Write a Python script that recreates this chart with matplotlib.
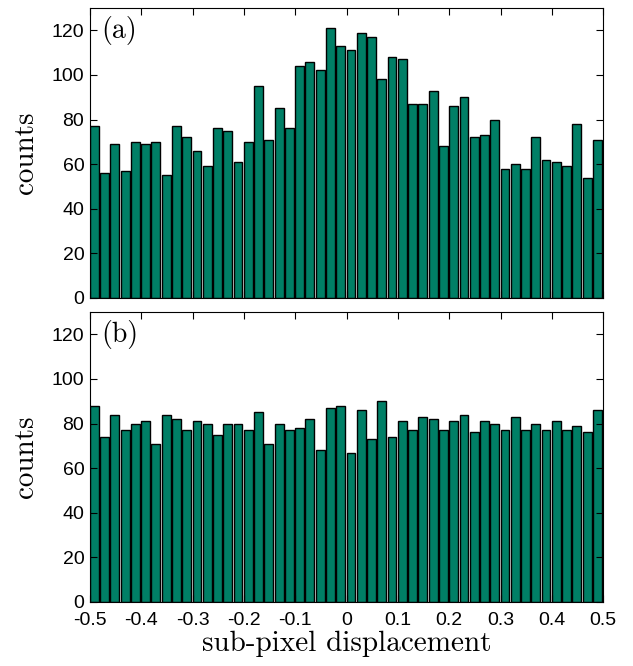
import numpy as np
import matplotlib
matplotlib.use("Agg")
import matplotlib.pyplot as plt

# bin left edges -0.5 ... 0.48, width 0.02
bin_width = 0.02
bin_edges = np.round(np.arange(-0.5, 0.5, bin_width), 2)

counts_a = [77, 56, 69, 57, 70, 69, 70, 55, 77, 72,
            66, 59, 76, 75, 61, 70, 95, 71, 85, 76,
            104, 106, 102, 121, 113, 111, 119, 117, 98, 108,
            107, 87, 87, 93, 68, 86, 90, 72, 73, 80,
            58, 60, 58, 72, 62, 61, 59, 78, 54, 71]

counts_b = [88, 74, 84, 77, 80, 81, 71, 84, 82, 77,
            81, 80, 75, 80, 80, 77, 85, 71, 80, 77,
            78, 82, 68, 87, 88, 67, 86, 73, 90, 74,
            81, 77, 83, 82, 77, 81, 84, 76, 81, 80,
            77, 83, 77, 80, 77, 81, 77, 79, 76, 86]

panel_labels = ["(a)", "(b)"]
xticks = [-0.5, -0.4, -0.3, -0.2, -0.1, 0, 0.1, 0.2, 0.3, 0.4, 0.5]
xticklabels = ["-0.5", "-0.4", "-0.3", "-0.2", "-0.1", "0",
               "0.1", "0.2", "0.3", "0.4", "0.5"]
yticks = [0, 20, 40, 60, 80, 100, 120]

bar_color = "#007f66"
tick_font = "Liberation Sans"
label_font = "cmr10"

fig = plt.figure(figsize=(6.33, 6.66), dpi=100)
ax_a = fig.add_axes([0.142, 0.5526, 0.811, 0.4354])
ax_b = fig.add_axes([0.142, 0.0961, 0.811, 0.4354])

for ax, counts, lab in zip([ax_a, ax_b], [counts_a, counts_b], panel_labels):
    ax.bar(bin_edges, counts, width=0.0172, align="edge",
           color=bar_color, edgecolor="black", linewidth=1.0)
    ax.set_xlim(-0.5, 0.5)
    ax.set_ylim(0, 130)
    ax.set_xticks(xticks)
    ax.set_yticks(yticks)
    ax.set_yticklabels([str(v) for v in yticks], fontfamily=tick_font, fontsize=14)
    ax.tick_params(direction="in", top=True, right=True, length=5, width=0.8,
                   colors="black")
    ax.tick_params(axis="y", pad=4)
    ax.tick_params(axis="x", pad=7.5)
    for sp in ax.spines.values():
        sp.set_linewidth(0.8)
    ax.set_ylabel("counts", fontfamily=label_font, fontsize=21)
    ax.yaxis.set_label_coords(-0.1, 0.5)
    ax.text(0.022, 0.972, lab, transform=ax.transAxes, ha="left", va="top",
            fontfamily=label_font, fontsize=20)

ax_a.set_xticklabels([])
ax_b.set_xticklabels(xticklabels, fontfamily=tick_font, fontsize=14)
ax_b.set_xlabel("sub-pixel displacement", fontfamily=label_font, fontsize=21, labelpad=1)

fig.savefig("out.png", dpi=100)
